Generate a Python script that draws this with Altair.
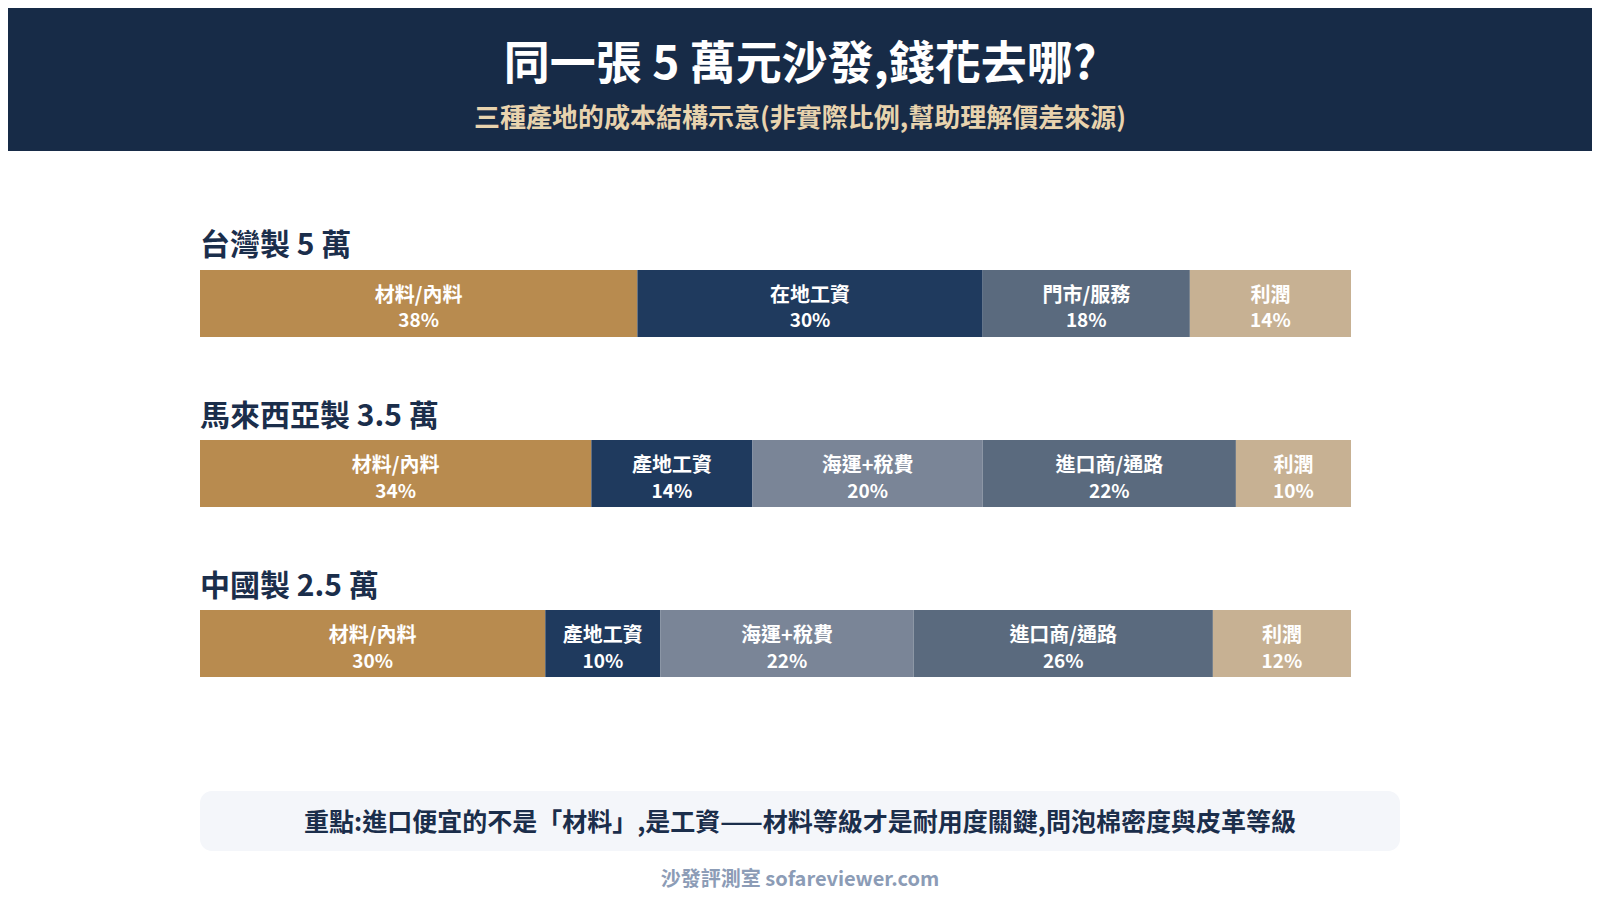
import altair as alt
import pandas as pd

FONT = "Noto Sans CJK TC"

title_text = "同一張 5 萬元沙發,錢花去哪?"
subtitle_text = "三種產地的成本結構示意(非實際比例,幫助理解價差來源)"
note_text = "重點:進口便宜的不是「材料」,是工資——材料等級才是耐用度關鍵,問泡棉密度與皮革等級"
footer_text = "沙發評測室 sofareviewer.com"

origins = ["台灣製 5 萬", "馬來西亞製 3.5 萬", "中國製 2.5 萬"]

taiwan_parts = ["材料/內料", "在地工資", "門市/服務", "利潤"]
taiwan_pct = [38, 30, 18, 14]
malaysia_parts = ["材料/內料", "產地工資", "海運+稅費", "進口商/通路", "利潤"]
malaysia_pct = [34, 14, 20, 22, 10]
china_parts = ["材料/內料", "產地工資", "海運+稅費", "進口商/通路", "利潤"]
china_pct = [30, 10, 22, 26, 12]

part_names = ["材料/內料", "在地工資", "產地工資", "門市/服務", "海運+稅費", "進口商/通路", "利潤"]
part_colors = ["#b88b4f", "#1f3a5e", "#1f3a5e", "#5a6a7e", "#7a8597", "#5a6a7e", "#c7b193"]

rows = []
for origin, parts, pcts in zip(origins,
                               [taiwan_parts, malaysia_parts, china_parts],
                               [taiwan_pct, malaysia_pct, china_pct]):
    start = 0
    for part, pct in zip(parts, pcts):
        rows.append({"origin": origin, "part": part, "pct": pct,
                     "start": start, "end": start + pct,
                     "mid": start + pct / 2, "pct_label": f"{pct}%"})
        start += pct
segments = pd.DataFrame(rows)

# page coordinates minus the 8px body margin
W, H = 1584, 884
x_scale = alt.Scale(domain=[0, 100], range=[192, 1343])
y_scale = alt.Scale(domain=origins, range=[262, 669], paddingInner=0.606, paddingOuter=0)
x_enc = lambda f: alt.X(f, scale=x_scale, axis=None)
y_enc = alt.Y("origin:N", scale=y_scale, axis=None, sort=origins)

one = pd.DataFrame({"k": [0]})

header = alt.Chart(one).mark_rect(color="#172b47").encode(
    x=alt.value(-8), x2=alt.value(W), y=alt.value(-8), y2=alt.value(143)
)
title = alt.Chart(pd.DataFrame({"t": [title_text]})).mark_text(
    font=FONT, fontSize=46, fontWeight="bold", color="#ffffff", baseline="middle"
).encode(x=alt.value(792), y=alt.value(57), text="t:N")
subtitle = alt.Chart(pd.DataFrame({"t": [subtitle_text]})).mark_text(
    font=FONT, fontSize=26, fontWeight="bold", color="#e8d3ae", baseline="middle"
).encode(x=alt.value(792), y=alt.value(111), text="t:N")

bars = alt.Chart(segments).mark_bar().encode(
    x=x_enc("start:Q"), x2="end:Q", y=y_enc,
    color=alt.Color("part:N", scale=alt.Scale(domain=part_names, range=part_colors), legend=None),
)
part_labels = alt.Chart(segments).mark_text(
    font=FONT, fontSize=20, fontWeight="bold", color="#ffffff", baseline="middle", dy=-7.5
).encode(x=x_enc("mid:Q"), y=y_enc, text="part:N")
pct_labels = alt.Chart(segments).mark_text(
    font=FONT, fontSize=19, fontWeight="bold", color="#ffffff", baseline="middle", dy=18
).encode(x=x_enc("mid:Q"), y=y_enc, text="pct_label:N")

group_titles = alt.Chart(pd.DataFrame({"origin": origins})).mark_text(
    font=FONT, fontSize=30, fontWeight="bold", color="#1b2e4b",
    align="left", baseline="middle", dy=-57
).encode(x=alt.value(192), y=y_enc, text="origin:N")

note_box = alt.Chart(one).mark_rect(color="#f4f6fa", cornerRadius=12).encode(
    x=alt.value(192), x2=alt.value(1392), y=alt.value(783), y2=alt.value(843)
)
note = alt.Chart(pd.DataFrame({"t": [note_text]})).mark_text(
    font=FONT, fontSize=25, fontWeight="bold", color="#1b2e4b", baseline="middle"
).encode(x=alt.value(792), y=alt.value(815), text="t:N")
footer = alt.Chart(pd.DataFrame({"t": [footer_text]})).mark_text(
    font=FONT, fontSize=20, fontWeight="bold", color="#8c9cb6", baseline="middle"
).encode(x=alt.value(792), y=alt.value(872), text="t:N")

chart = alt.layer(
    header, title, subtitle, bars, part_labels, pct_labels, group_titles, note_box, note, footer
).properties(
    width=W, height=H, padding=0, autosize=alt.AutoSizeParams(type="none"),
    background="#ffffff"
).configure_view(stroke=None)

chart.save("out.html", embed_options={"renderer": "svg", "actions": False})
